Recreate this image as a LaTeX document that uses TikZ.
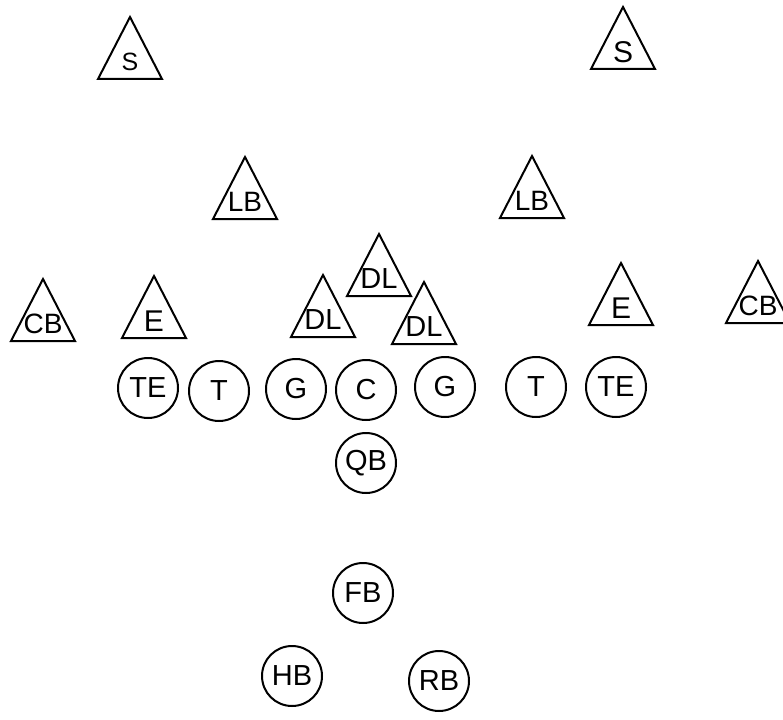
\documentclass[tikz,border=0pt]{standalone}
\usepackage{fontspec}
\setmainfont{Liberation Sans}
\tikzset{
  tri/.style={draw=black, line width=2pt, line join=miter},
  lbl/.style={inner sep=0pt},
  player/.style={circle, draw=black, line width=2pt, minimum size=60pt, inner sep=0pt, font=\fontsize{29}{29}\selectfont}
}
% #1 name, #2 apex x, #3 apex y, #4 label, #5 font size
\newcommand\deftri[5]{%
  \draw[tri] (#2,#3) -- ++(-32,62) -- ++(64,0) -- cycle;
  \node[lbl, font=\fontsize{#5}{#5}\selectfont] (#1) at (#2,#3+45) {#4};}
\begin{document}
\begin{tikzpicture}[x=1pt, y=-1pt]
\useasboundingbox[fill=white] (0,0) rectangle (783,719);
% defense
\deftri{sL}{130}{17}{S}{25}
\deftri{sR}{623}{7}{S}{30}
\deftri{lbL}{245}{157}{LB}{28}
\deftri{lbR}{532}{156}{LB}{28}
\deftri{dlT}{379}{234}{DL}{29}
\deftri{dlL}{323}{275}{DL}{29}
\deftri{dlR}{424}{282}{DL}{29}
\deftri{cbL}{43}{279}{CB}{28}
\deftri{eL}{154}{276}{E}{30}
\deftri{eR}{621}{263}{E}{30}
\deftri{cbR}{758}{261}{CB}{28}
% offense
\node[player] (teL) at (148,388) {TE};
\node[player] (tL)  at (219,391) {T};
\node[player] (gL)  at (296,389) {G};
\node[player] (c)   at (366,390) {C};
\node[player] (gR)  at (445,387) {G};
\node[player] (tR)  at (536,387) {T};
\node[player] (teR) at (616,387) {TE};
\node[player] (qb)  at (366,463) {QB};
\node[player] (fb)  at (363,593) {FB};
\node[player] (hb)  at (292,676) {HB};
\node[player] (rb)  at (439,681) {RB};
\end{tikzpicture}
\end{document}
